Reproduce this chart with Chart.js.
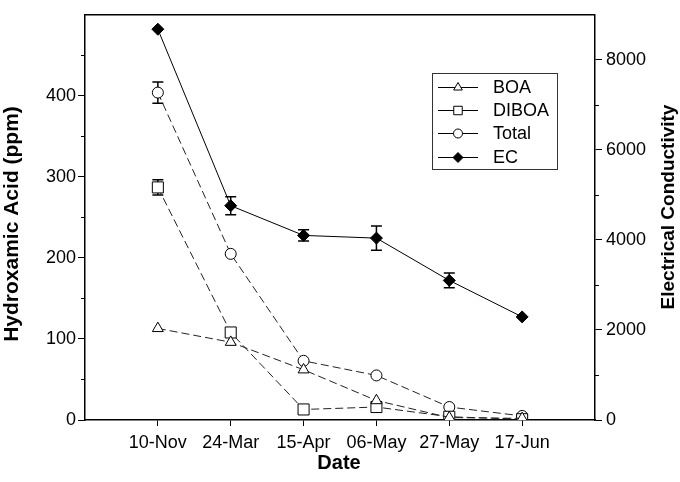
<!DOCTYPE html>
<html>
<head>
<meta charset="utf-8">
<script src="https://cdn.jsdelivr.net/npm/chart.js@4/dist/chart.umd.min.js"></script>
<style>
html,body{margin:0;padding:0;background:#fff;}
#wrap{width:680px;height:482px;}
</style>
</head>
<body>
<div id="wrap"><canvas id="c" width="680" height="482"></canvas></div>
<script>
// ---- data ----
const dates = ['10-Nov', '24-Mar', '15-Apr', '06-May', '27-May', '17-Jun'];
const boa   = [113, 96, 62, 24, 3, 2];
const diboa = [287, 108, 13, 16, 4, 1];
const total = [404, 205, 73, 55, 16, 5];
const ec    = [8680, 4760, 4100, 4040, 3100, 2290];
const totalErr = [13, 0, 0, 0, 0, 0];
const diboaErr = [9.5, 0, 0, 0, 0, 0];
const ecErr    = [0, 200, 125, 270, 165, 0];
const leftTicks  = [0, 100, 200, 300, 400];
const leftMinor  = [50, 150, 250, 350, 450];
const rightTicks = [0, 2000, 4000, 6000, 8000];
const rightMinor = [1000, 3000, 5000, 7000];

const FONT = "'Liberation Sans', Arial, Helvetica, sans-serif";
const toXY = arr => arr.map((v, i) => ({x: i + 1, y: v}));

function drawMarker(ctx, style, x, y, r, fill) {
  ctx.save();
  ctx.beginPath();
  if (style === 'triangle') {
    for (let k = 0; k < 3; k++) {
      const a = k * 2 * Math.PI / 3;
      const px = x + Math.sin(a) * r, py = y - Math.cos(a) * r;
      k ? ctx.lineTo(px, py) : ctx.moveTo(px, py);
    }
    ctx.closePath();
  } else if (style === 'rect') {
    const s = r * Math.SQRT1_2;
    ctx.rect(x - s, y - s, 2 * s, 2 * s);
  } else if (style === 'circle') {
    ctx.arc(x, y, r, 0, Math.PI * 2);
  } else if (style === 'rectRot') {
    ctx.moveTo(x - r, y); ctx.lineTo(x, y - r); ctx.lineTo(x + r, y); ctx.lineTo(x, y + r); ctx.closePath();
  }
  ctx.fillStyle = fill;
  ctx.fill();
  ctx.lineWidth = 1;
  ctx.strokeStyle = '#000';
  ctx.stroke();
  ctx.restore();
}

const legendItems = [
  {label: 'BOA', style: 'triangle', r: 5, fill: '#fff'},
  {label: 'DIBOA', style: 'rect', r: 6, fill: '#fff'},
  {label: 'Total', style: 'circle', r: 4.5, fill: '#fff'},
  {label: 'EC', style: 'rectRot', r: 5, fill: '#000'}
];

const extras = {
  id: 'extras',
  beforeDatasetsDraw(chart) {
    const ctx = chart.ctx;
    ctx.save();
    ctx.strokeStyle = '#000';
    ctx.lineWidth = 1.5;
    chart.data.datasets.forEach((ds, i) => {
      if (!ds.errors) return;
      const meta = chart.getDatasetMeta(i);
      const ys = chart.scales[ds.yAxisID];
      ds.errors.forEach((e, j) => {
        if (!e) return;
        const x = meta.data[j].x;
        const v = ds.data[j].y;
        const y1 = ys.getPixelForValue(v + e), y2 = ys.getPixelForValue(v - e);
        ctx.beginPath();
        ctx.moveTo(x, y1); ctx.lineTo(x, y2);
        ctx.moveTo(x - 5.5, y1); ctx.lineTo(x + 5.5, y1);
        ctx.moveTo(x - 5.5, y2); ctx.lineTo(x + 5.5, y2);
        ctx.stroke();
      });
    });
    ctx.restore();
  },
  afterDraw(chart) {
    const ctx = chart.ctx;
    const a = chart.chartArea;
    ctx.save();
    // top frame
    ctx.strokeStyle = '#000';
    ctx.lineWidth = 1.5;
    ctx.beginPath();
    ctx.moveTo(a.left, a.top); ctx.lineTo(a.right, a.top);
    ctx.stroke();
    // minor ticks
    ctx.lineWidth = 1;
    const yl = chart.scales.y, yr = chart.scales.y2;
    ctx.beginPath();
    leftMinor.forEach(v => { const p = Math.round(yl.getPixelForValue(v)) + 0.5; ctx.moveTo(a.left - 4, p); ctx.lineTo(a.left, p); });
    rightMinor.forEach(v => { const p = Math.round(yr.getPixelForValue(v)) + 0.5; ctx.moveTo(a.right, p); ctx.lineTo(a.right + 4, p); });
    ctx.stroke();
    // titles
    ctx.fillStyle = '#000';
    ctx.textAlign = 'center';
    ctx.textBaseline = 'middle';
    ctx.font = 'bold 21px ' + FONT;
    ctx.save(); ctx.translate(12, 224); ctx.rotate(-Math.PI / 2); ctx.fillText('Hydroxamic Acid (ppm)', 0, 0); ctx.restore();
    ctx.font = 'bold 19px ' + FONT;
    ctx.save(); ctx.translate(669, 207); ctx.rotate(-Math.PI / 2); ctx.fillText('Electrical Conductivity', 0, 0); ctx.restore();
    ctx.font = 'bold 20px ' + FONT;
    ctx.textBaseline = 'alphabetic';
    ctx.fillText('Date', 339, 469);
    // legend
    ctx.lineWidth = 1;
    ctx.strokeStyle = '#333';
    ctx.strokeRect(432.5, 73.5, 125, 96);
    const ly = [87, 110, 133, 157];
    ctx.font = '18px ' + FONT;
    ctx.textAlign = 'left';
    ctx.textBaseline = 'middle';
    legendItems.forEach((it, k) => {
      const y = ly[k] + 0.5;
      ctx.strokeStyle = '#000';
      ctx.beginPath(); ctx.moveTo(438, y); ctx.lineTo(478, y); ctx.stroke();
      drawMarker(ctx, it.style, 458, y, it.r, it.fill);
      ctx.fillStyle = '#000';
      ctx.fillText(it.label, 493, ly[k] + 1);
    });
    ctx.restore();
  }
};

const dash = [8, 4];
new Chart(document.getElementById('c'), {
  type: 'line',
  data: {
    datasets: [
      {label: 'BOA', data: toXY(boa), yAxisID: 'y', borderColor: '#222', borderWidth: 1, borderDash: dash,
       pointStyle: 'triangle', pointRadius: 6.3, pointBackgroundColor: '#fff', pointBorderColor: '#000', pointBorderWidth: 1},
      {label: 'DIBOA', data: toXY(diboa), yAxisID: 'y', errors: diboaErr, borderColor: '#222', borderWidth: 1, borderDash: dash,
       pointStyle: 'rect', pointRadius: 7.8, pointBackgroundColor: '#fff', pointBorderColor: '#000', pointBorderWidth: 1},
      {label: 'Total', data: toXY(total), yAxisID: 'y', errors: totalErr, borderColor: '#222', borderWidth: 1, borderDash: dash,
       pointStyle: 'circle', pointRadius: 5.5, pointBackgroundColor: '#fff', pointBorderColor: '#000', pointBorderWidth: 1},
      {label: 'EC', data: toXY(ec), yAxisID: 'y2', errors: ecErr, borderColor: '#000', borderWidth: 1,
       pointStyle: 'rectRot', pointRadius: 6, pointBackgroundColor: '#000', pointBorderColor: '#000', pointBorderWidth: 1}
    ]
  },
  options: {
    responsive: false,
    animation: false,
    layout: {padding: {top: 11, left: 0, right: 0, bottom: 0}},
    plugins: {legend: {display: false}, tooltip: {enabled: false}},
    scales: {
      x: {
        type: 'linear', min: 0, max: 7,
        afterBuildTicks: s => { s.ticks = dates.map((d, i) => ({value: i + 1})); },
        afterFit: s => { s.height = 62; },
        ticks: {callback: v => dates[v - 1] || '', color: '#000', font: {family: FONT, size: 18}, padding: 6, maxRotation: 0, autoSkip: false},
        grid: {drawOnChartArea: false, drawTicks: true, tickLength: 6, color: '#000', tickWidth: 1},
        border: {display: true, color: '#000', width: 1.5}
      },
      y: {
        type: 'linear', position: 'left', min: 0, max: 500,
        afterBuildTicks: s => { s.ticks = leftTicks.map(v => ({value: v})); },
        afterFit: s => { s.width = 85; },
        ticks: {callback: v => String(v), color: '#000', font: {family: FONT, size: 18}, padding: 2},
        grid: {drawOnChartArea: false, drawTicks: true, tickLength: 7, color: '#000', tickWidth: 1},
        border: {display: true, color: '#000', width: 1.5}
      },
      y2: {
        type: 'linear', position: 'right', min: 0, max: 9000,
        afterBuildTicks: s => { s.ticks = rightTicks.map(v => ({value: v})); },
        afterFit: s => { s.width = 85; },
        ticks: {callback: v => String(v), color: '#000', font: {family: FONT, size: 18}, padding: 4},
        grid: {drawOnChartArea: false, drawTicks: true, tickLength: 7, color: '#000', tickWidth: 1},
        border: {display: true, color: '#000', width: 1.5}
      }
    }
  },
  plugins: [extras]
});
</script>
</body>
</html>
